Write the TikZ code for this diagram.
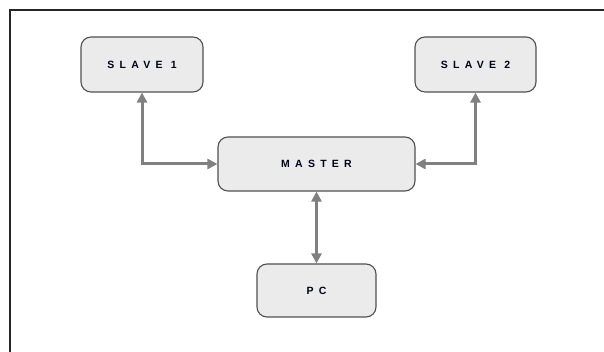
\documentclass[tikz,border=0pt]{standalone}
\usepackage{fontspec}
\setmainfont{Liberation Sans}
\usepackage{tikz}
\usetikzlibrary{arrows.meta}
\newfontfamily\boxfont[LetterSpace=50]{Liberation Sans Bold}
\definecolor{boxfill}{HTML}{EBEBEB}
\definecolor{boxline}{HTML}{505050}
\definecolor{linkgray}{HTML}{808080}
\def\dlink{\draw[link]}

\begin{document}
\begin{tikzpicture}[x=1pt,y=1pt,
    unit/.style={draw=boxline,fill=boxfill,line width=1.1pt,rounded corners=10pt,
      inner sep=0pt,font=\boxfont\fontsize{10.5}{11}\selectfont,text=black!90!blue},
    link/.style={linkgray,line width=3pt,
      {Triangle[length=10pt,width=10pt]}-{Triangle[length=10pt,width=10pt]}}]
                \useasboundingbox (0,0) rectangle (604,352);
                \draw[line width=2pt,black!85] (604,342) -- (10,342) -- (10,0);
                \node[unit,minimum width=122pt,minimum height=55pt] (slave1) at (142,287.5) {SLAVE 1};
                \node[unit,minimum width=121pt,minimum height=55pt] (slave2) at (475.5,287.5) {SLAVE 2};
                \node[unit,minimum width=197pt,minimum height=54pt] (master) at (316.5,188) {MASTER};
                \node[unit,minimum width=119pt,minimum height=53pt] (pc) at (316.5,61.5) {PC};
                \dlink (slave1.south) |- (master.west);
                \dlink (slave2.south) |- (master.east);
                \dlink (master.south) -- (pc.north);
            \end{tikzpicture}
\end{document}
